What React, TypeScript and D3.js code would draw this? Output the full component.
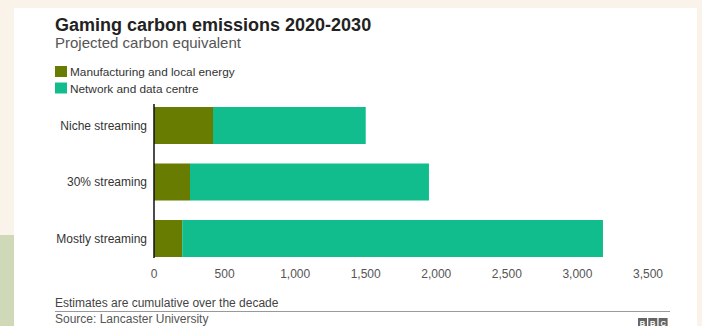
import React from "react";
import * as d3 from "d3";

const categories = ["Niche streaming", "30% streaming", "Mostly streaming"];
const manufacturing = [418, 255, 200];
const network = [1082, 1693, 2981];
const seriesNames = ["Manufacturing and local energy", "Network and data centre"];
const seriesColors = ["#677c00", "#12bd8d"];
const xTicks = [0, 500, 1000, 1500, 2000, 2500, 3000, 3500];

const W = 702;
const H = 326;
const FONT = "'Liberation Sans', Arial, Helvetica, sans-serif";

export default function App() {
  const x = d3.scaleLinear().domain([0, 3500]).range([154, 648]);
  const y = d3
    .scaleBand<string>()
    .domain(categories)
    .range([97.25, 266.75])
    .paddingInner(0.345)
    .paddingOuter(0.1725);

  const rows = categories.map((c, i) => ({ c, m: manufacturing[i], n: network[i] }));
  const stack = d3.stack<any>().keys(["m", "n"])(rows as any);
  const fmt = d3.format(",");

  return (
    <svg
      width={W}
      height={H}
      style={{ position: "fixed", left: 0, top: 0, display: "block" }}
      fontFamily={FONT}
    >
      <rect x={0} y={0} width={W} height={H} fill="#faf3e9" />
      <rect x={0} y={235} width={14} height={H - 235} fill="#cfd8b7" />
      <rect x={14} y={8} width={683} height={H} fill="#ffffff" />

      <text x={55} y={31} fontSize={18} fontWeight="bold" fill="#222">
        Gaming carbon emissions 2020-2030
      </text>
      <text x={55} y={47.5} fontSize={15} fill="#555">
        Projected carbon equivalent
      </text>

      {seriesNames.map((s, i) => (
        <g key={s}>
          <rect x={55} y={66 + i * 16.5} width={12} height={11} fill={seriesColors[i]} />
          <text x={70} y={76 + i * 16.5} fontSize={11.8} fill="#333">
            {s}
          </text>
        </g>
      ))}

      {stack.map((layer, li) =>
        layer.map((d: any, i: number) => (
          <rect
            key={`${li}-${i}`}
            x={x(d[0])}
            y={y(categories[i])!}
            width={x(d[1]) - x(d[0])}
            height={y.bandwidth()}
            fill={seriesColors[li]}
          />
        ))
      )}

      {categories.map((c) => (
        <text
          key={c}
          x={147}
          y={y(c)! + y.bandwidth() / 2 + 4}
          fontSize={12}
          textAnchor="end"
          fill="#333"
        >
          {c}
        </text>
      ))}

      <line x1={154} x2={154} y1={104} y2={258} stroke="#111" strokeWidth={1.5} />

      {xTicks.map((t) => (
        <text key={t} x={x(t)} y={278} fontSize={12} textAnchor="middle" fill="#555">
          {fmt(t)}
        </text>
      ))}

      <text x={55} y={307} fontSize={12} fill="#444">
        Estimates are cumulative over the decade
      </text>
      <line x1={55} x2={670} y1={311.5} y2={311.5} stroke="#999" strokeWidth={1} />
      <text x={55} y={323} fontSize={12} fill="#555">
        Source: Lancaster University
      </text>

      {["B", "B", "C"].map((l, i) => (
        <g key={i}>
          <rect x={638 + i * 10.3} y={318} width={9} height={9} fill="#666" />
          <text
            x={638 + i * 10.3 + 4.5}
            y={325.5}
            fontSize={7.5}
            fontWeight="bold"
            textAnchor="middle"
            fill="#fff"
          >
            {l}
          </text>
        </g>
      ))}
    </svg>
  );
}
